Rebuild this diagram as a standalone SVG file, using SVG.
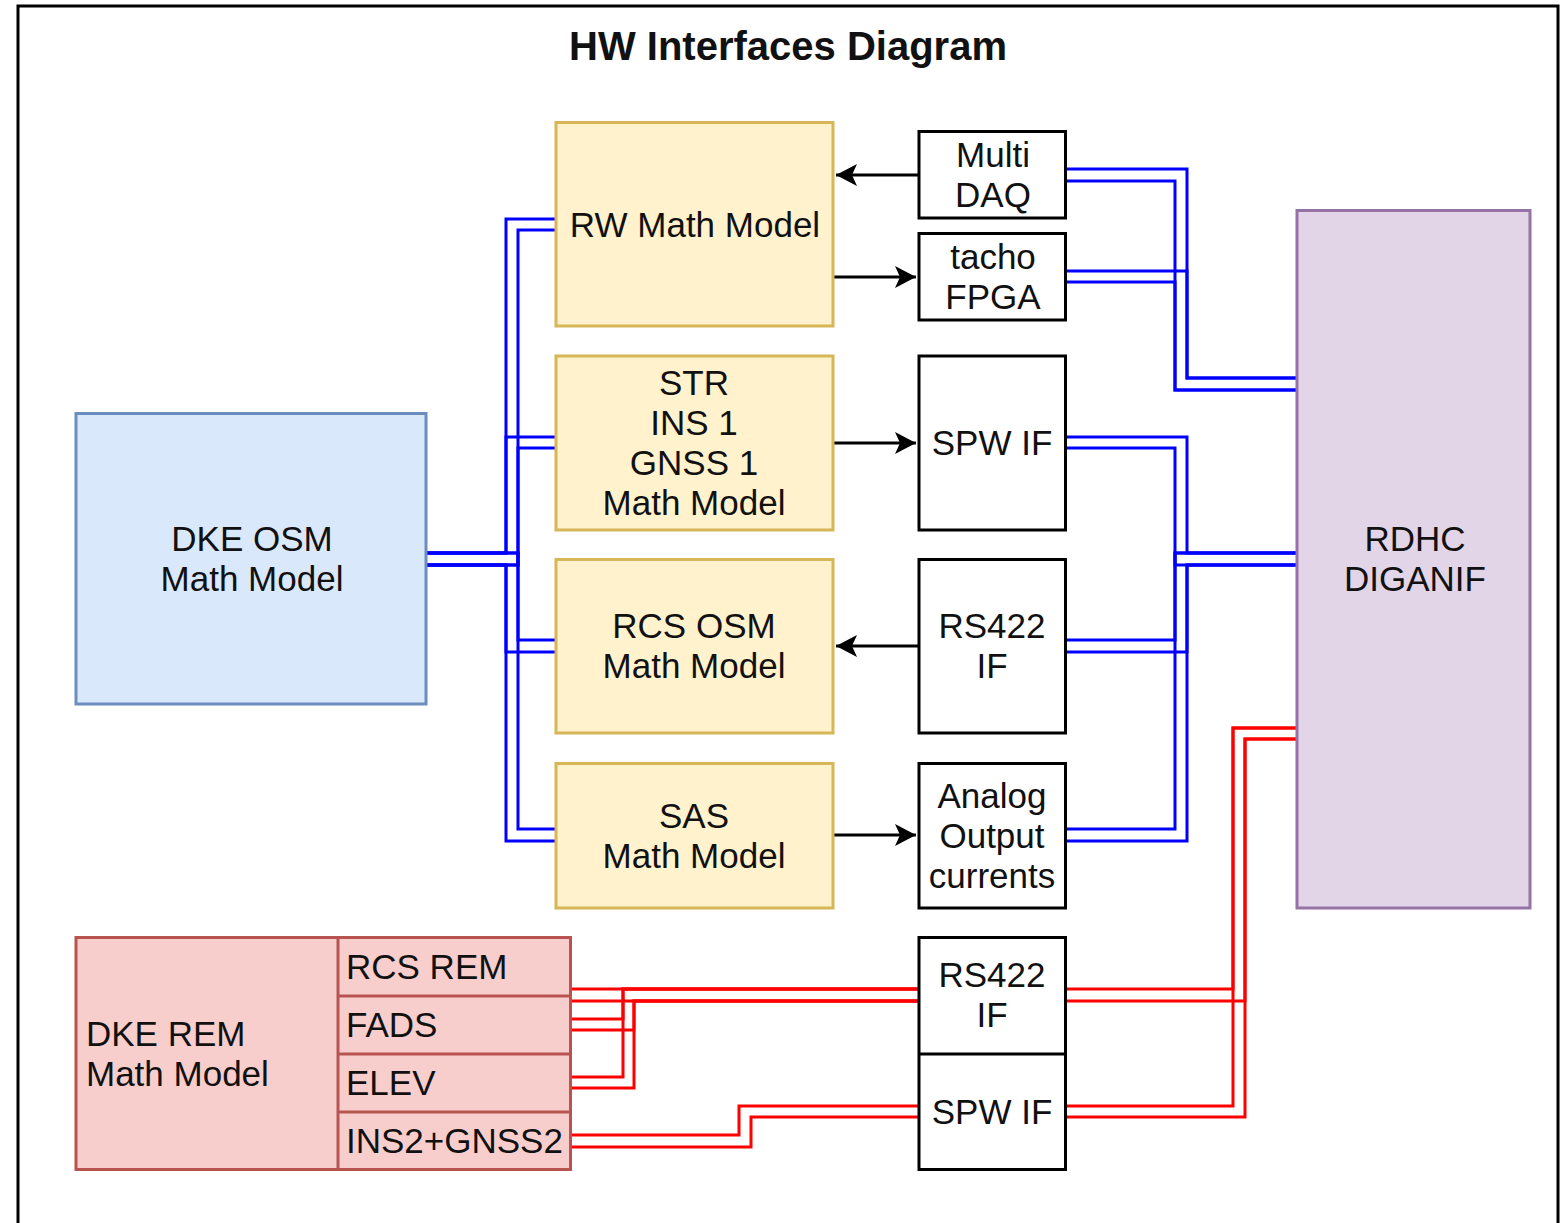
<svg xmlns="http://www.w3.org/2000/svg" width="1564" height="1223" viewBox="0 0 1564 1223">
<style>
  text { font-family: "Liberation Sans", Arial, sans-serif; font-size: 35px; fill: #111; }
  .c { text-anchor: middle; }
  .l { text-anchor: start; }
  .title { font-size: 40px; font-weight: bold; text-anchor: middle; }
  .yel { fill: #fff2cc; stroke: #d6b656; stroke-width: 3; }
  .blu { fill: #dae8fc; stroke: #6c8ebf; stroke-width: 3; }
  .pur { fill: #e1d5e7; stroke: #9673a6; stroke-width: 3; }
  .red { fill: #f8cecc; stroke: #b85450; stroke-width: 3; }
  .wht { fill: #ffffff; stroke: #000000; stroke-width: 3; }
  .bl { fill: none; stroke: #0000ff; stroke-width: 3; }
  .rd { fill: none; stroke: #ff0000; stroke-width: 3; }
  .ar { fill: none; stroke: #000000; stroke-width: 3; }
</style>
<defs>
  <marker id="arrow" markerUnits="userSpaceOnUse" markerWidth="24" markerHeight="24" refX="21" refY="11" orient="auto">
    <path d="M21,11 L0,0 L5,11 L0,22 Z" fill="#000"/>
  </marker>
</defs>
<rect width="1564" height="1223" fill="#ffffff"/>
<rect x="18" y="6" width="1540" height="1240" fill="none" stroke="#000" stroke-width="3"/>
<text class="title" x="788" y="60">HW Interfaces Diagram</text>

<g id="connectors">
  <!-- left blue bus -->
  <path class="bl" d="M426,553 H506 V219 H556"/>
  <path class="bl" d="M426,565 H518 V230 H556"/>
  <path class="bl" d="M426,553 H506 V437 H556"/>
  <path class="bl" d="M426,565 H518 V448 H556"/>
  <path class="bl" d="M426,553 H518 V640 H556"/>
  <path class="bl" d="M426,565 H506 V652 H556"/>
  <path class="bl" d="M426,553 H518 V829 H556"/>
  <path class="bl" d="M426,565 H506 V841 H556"/>
  <!-- right blue bus -->
  <path class="bl" d="M1066,169 H1187 V378 H1297"/>
  <path class="bl" d="M1066,181 H1175 V390 H1297"/>
  <path class="bl" d="M1066,271 H1187 V378 H1297"/>
  <path class="bl" d="M1066,282 H1175 V390 H1297"/>
  <path class="bl" d="M1066,437 H1187 V553 H1297"/>
  <path class="bl" d="M1066,448 H1175 V565 H1297"/>
  <path class="bl" d="M1066,640 H1175 V553 H1297"/>
  <path class="bl" d="M1066,652 H1187 V565 H1297"/>
  <path class="bl" d="M1066,829 H1175 V553 H1297"/>
  <path class="bl" d="M1066,841 H1187 V565 H1297"/>
  <!-- red connectors -->
  <path class="rd" d="M571,989 H919"/>
  <path class="rd" d="M571,1001 H919"/>
  <path class="rd" d="M571,1019 H623 V989 H919"/>
  <path class="rd" d="M571,1030 H634 V1001 H919"/>
  <path class="rd" d="M571,1077 H623 V989 H919"/>
  <path class="rd" d="M571,1088 H634 V1001 H919"/>
  <path class="rd" d="M571,1135 H739 V1106 H919"/>
  <path class="rd" d="M571,1147 H751 V1117 H919"/>
  <path class="rd" d="M1066,989 H1233 V728 H1297"/>
  <path class="rd" d="M1066,1001 H1245 V739 H1297"/>
  <path class="rd" d="M1066,1106 H1233 V728 H1297"/>
  <path class="rd" d="M1066,1117 H1245 V739 H1297"/>
  <!-- arrows -->
  <path class="ar" d="M919,175 H836" marker-end="url(#arrow)"/>
  <path class="ar" d="M833,277 H916" marker-end="url(#arrow)"/>
  <path class="ar" d="M833,443 H916" marker-end="url(#arrow)"/>
  <path class="ar" d="M919,646 H836" marker-end="url(#arrow)"/>
  <path class="ar" d="M833,835 H916" marker-end="url(#arrow)"/>
</g>

<g id="dke-osm">
  <rect class="blu" x="76" y="413.5" width="350" height="290.5"/>
  <text class="c" x="252" y="551">DKE OSM</text>
  <text class="c" x="252" y="591">Math Model</text>
</g>

<g id="rw-model">
  <rect class="yel" x="556" y="122.5" width="277" height="203.5"/>
  <text class="c" x="695" y="237">RW Math Model</text>
</g>

<g id="str-model">
  <rect class="yel" x="556" y="356" width="277" height="174"/>
  <text class="c" x="694" y="395">STR</text>
  <text class="c" x="694" y="435">INS 1</text>
  <text class="c" x="694" y="475">GNSS 1</text>
  <text class="c" x="694" y="515">Math Model</text>
</g>

<g id="rcs-osm">
  <rect class="yel" x="556" y="559.5" width="277" height="173.5"/>
  <text class="c" x="694" y="638">RCS OSM</text>
  <text class="c" x="694" y="678">Math Model</text>
</g>

<g id="sas-model">
  <rect class="yel" x="556" y="763.5" width="277" height="144.5"/>
  <text class="c" x="694" y="828">SAS</text>
  <text class="c" x="694" y="868">Math Model</text>
</g>

<g id="multi-daq">
  <rect class="wht" x="919" y="131.5" width="146.5" height="86.5"/>
  <text class="c" x="993" y="167">Multi</text>
  <text class="c" x="993" y="207">DAQ</text>
</g>

<g id="tacho-fpga">
  <rect class="wht" x="919" y="233.5" width="146.5" height="86.5"/>
  <text class="c" x="993" y="269">tacho</text>
  <text class="c" x="993" y="309">FPGA</text>
</g>

<g id="spw-if-1">
  <rect class="wht" x="919" y="356" width="146.5" height="174"/>
  <text class="c" x="992" y="455">SPW IF</text>
</g>

<g id="rs422-if-1">
  <rect class="wht" x="919" y="559.5" width="146.5" height="173.5"/>
  <text class="c" x="992" y="638">RS422</text>
  <text class="c" x="992" y="678">IF</text>
</g>

<g id="analog-out">
  <rect class="wht" x="919" y="763.5" width="146.5" height="144.5"/>
  <text class="c" x="992" y="808">Analog</text>
  <text class="c" x="992" y="848">Output</text>
  <text class="c" x="992" y="888">currents</text>
</g>

<g id="rdhc">
  <rect class="pur" x="1297" y="210.5" width="233" height="697.5"/>
  <text class="c" x="1415" y="551">RDHC</text>
  <text class="c" x="1415" y="591">DIGANIF</text>
</g>

<g id="rem-if">
  <rect class="wht" x="919" y="937.5" width="146.5" height="232"/>
  <line x1="919" y1="1054" x2="1065.5" y2="1054" stroke="#000" stroke-width="3"/>
  <text class="c" x="992" y="987">RS422</text>
  <text class="c" x="992" y="1027">IF</text>
  <text class="c" x="992" y="1124">SPW IF</text>
</g>

<g id="dke-rem">
  <rect class="red" x="76" y="937.5" width="494.5" height="232"/>
  <line x1="338" y1="937.5" x2="338" y2="1169.5" stroke="#b85450" stroke-width="3"/>
  <line x1="338" y1="996" x2="570.5" y2="996" stroke="#b85450" stroke-width="3"/>
  <line x1="338" y1="1054" x2="570.5" y2="1054" stroke="#b85450" stroke-width="3"/>
  <line x1="338" y1="1112" x2="570.5" y2="1112" stroke="#b85450" stroke-width="3"/>
  <text class="l" x="86" y="1046">DKE REM</text>
  <text class="l" x="86" y="1086">Math Model</text>
  <text class="l" x="346" y="979">RCS REM</text>
  <text class="l" x="346" y="1037">FADS</text>
  <text class="l" x="346" y="1095">ELEV</text>
  <text class="l" x="346" y="1153">INS2+GNSS2</text>
</g>
</svg>
